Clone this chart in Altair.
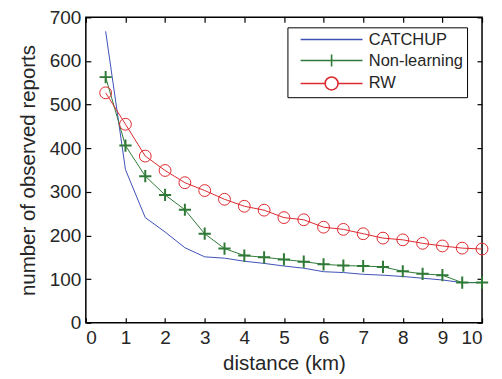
import altair as alt
import pandas as pd

distance = [0.5, 1, 1.5, 2, 2.5, 3, 3.5, 4, 4.5, 5, 5.5, 6, 6.5, 7, 7.5, 8, 8.5, 9, 9.5, 10]
catchup = [668, 351, 241, 208, 172, 151, 148, 141, 136, 130, 125, 117, 115, 111, 109, 106, 102, 98, 92, 92]
non_learning = [563, 406, 336, 293, 259, 204, 170, 154, 150, 145, 140, 134, 131, 130, 128, 118, 112, 109, 92, 92]
rw = [527, 455, 382, 349, 321, 303, 283, 267, 258, 241, 236, 219, 214, 204, 194, 190, 182, 176, 171, 169]

series_names = ["CATCHUP", "Non-learning", "RW"]
series_colors = ["#3f51b5", "#2f7a37", "#dd2a30"]
x_ticks = list(range(0, 11))
y_ticks = list(range(0, 701, 100))

rows = []
for name, vals in zip(series_names, [catchup, non_learning, rw]):
    for d, v in zip(distance, vals):
        rows.append({"distance": d, "reports": v, "series": name})
df = pd.DataFrame(rows)

FONT = "Liberation Sans"
W, H = 397, 306

xs = alt.Scale(domain=[0, 10], nice=False, zero=False)
ys = alt.Scale(domain=[0, 700], nice=False)

tick_axis = dict(offset=-5, tickSize=5, tickWidth=1.2, tickColor="black", domain=False,
                 grid=False, labels=False, title=None)

base = alt.Chart(df)

lines = base.mark_line(strokeWidth=1, clip=True).encode(
    x=alt.X("distance:Q", scale=xs,
            axis=alt.Axis(orient="bottom", values=x_ticks, offset=-5, tickSize=5, tickWidth=1.2,
                          tickColor="black", domain=False, grid=False, labelPadding=6,
                          labelFontSize=19, labelFont=FONT, labelColor="#262626",
                          title="distance (km)", titleFont=FONT, titleFontSize=20.5,
                          titleFontWeight="normal", titleColor="#262626", titlePadding=6)),
    y=alt.Y("reports:Q", scale=ys,
            axis=alt.Axis(orient="left", values=y_ticks, offset=-5, tickSize=5, tickWidth=1.2,
                          tickColor="black", domain=False, grid=False, labelPadding=5,
                          labelFontSize=19, labelFont=FONT, labelColor="#262626",
                          title="number of observed reports", titleFont=FONT, titleFontSize=20.5,
                          titleFontWeight="normal", titleColor="#262626", titlePadding=11)),
    color=alt.Color("series:N", scale=alt.Scale(domain=series_names, range=series_colors), legend=None),
    detail="series:N",
)

plus_pts = base.transform_filter(alt.datum.series == "Non-learning").mark_point(
    shape="M-1,0H1M0,-1V1", size=150, filled=False, strokeWidth=2, color=series_colors[1], opacity=1
).encode(
    x=alt.X("distance:Q", scale=xs, axis=alt.Axis(orient="top", values=x_ticks, **tick_axis)),
    y=alt.Y("reports:Q", scale=ys, axis=alt.Axis(orient="right", values=y_ticks, **tick_axis)),
)

circ_pts = base.transform_filter(alt.datum.series == "RW").mark_point(
    shape="circle", size=140, filled=False, strokeWidth=1, color=series_colors[2], opacity=1
).encode(
    x=alt.X("distance:Q", scale=xs, axis=None),
    y=alt.Y("reports:Q", scale=ys, axis=None),
)

# legend symbols: size 144 -> unit = 6 px
legend_paths = [
    "M-5.17,0H5.17",
    "M-5.17,0H5.17M0,-1V1",
    "M-5.17,0H-1.08M1.08,0H5.17M-1.08,0A1.08,1.08,0,1,1,1.08,0A1.08,1.08,0,1,1,-1.08,0",
]

leg = alt.Legend(title=None, orient="none", legendX=202, legendY=10)

legend_layer = base.transform_filter(alt.datum.reports > 100000).mark_point(
    filled=False, size=144, strokeWidth=1.5, opacity=1
).encode(
    x=alt.X("distance:Q", scale=xs, axis=None),
    y=alt.Y("reports:Q", scale=ys, axis=None),
    color=alt.Color("series:N", scale=alt.Scale(domain=series_names, range=series_colors), legend=leg),
    shape=alt.Shape("series:N", scale=alt.Scale(domain=series_names, range=legend_paths), legend=leg),
)

chart = alt.layer(lines, plus_pts, circ_pts, legend_layer).resolve_scale(
    color="independent", shape="independent"
).resolve_axis(
    x="independent", y="independent"
).properties(
    width=W, height=H,
    autosize=alt.AutoSizeParams(type="none"),
    padding={"left": 78, "top": 9, "right": 12, "bottom": 52},
).configure(
    background="white"
).configure_view(
    stroke="black", strokeWidth=1.5
).configure_legend(
    strokeColor="black", fillColor="white", padding=4, cornerRadius=0,
    labelFont=FONT, labelFontSize=16.5, labelColor="#262626", labelOffset=29,
    symbolSize=144, symbolStrokeWidth=1.6, symbolOffset=32, rowPadding=3,
    labelLimit=300,
)

chart.save("out.html", embed_options={"renderer": "svg", "actions": False})
